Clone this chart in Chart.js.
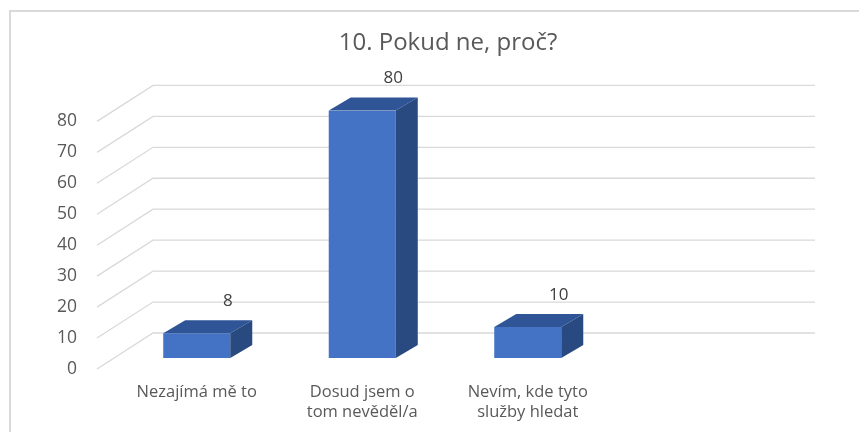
<!DOCTYPE html>
<html>
<head>
<meta charset="utf-8">
<script src="https://cdn.jsdelivr.net/npm/chart.js@4.4.1/dist/chart.umd.min.js"></script>
<style>
  body { margin: 0; background: #fff; }
  #wrap { position: relative; width: 859px; height: 432px; }
  #frame { position: absolute; left: 9px; top: 10px; right: 0; bottom: 0;
           border-top: 2px solid #d9d9d9; border-left: 2px solid #d9d9d9; }
  canvas { position: absolute; left: 0; top: 0; }
</style>
</head>
<body>
<div id="wrap">
  <div id="frame"></div>
  <canvas id="myChart" width="859" height="432"></canvas>
</div>
<script>
// data
const categories = ['Nezajímá mě to', ['Dosud jsem o', 'tom nevěděl/a'], ['Nevím, kde tyto', 'služby hledat'], ''];
const answers = [8, 80, 10, null];
const yTicks = [0, 10, 20, 30, 40, 50, 60, 70, 80];
const chartTitle = '10. Pokud ne, proč?';

// fake 3d: depth from the front edge to the bar face, and from bar face to the back wall
const toBar = { x: 17, y: -11 };
const toBack = { x: 39, y: -25 };
const barDepth = { x: 22, y: -13 };

const fontFamily = "'Open Sans', 'Noto Sans', sans-serif";

const wallGrid = {
    id: 'wallGrid',
    beforeDatasetsDraw(chart) {
        const ctx = chart.ctx;
        const area = chart.chartArea;
        const y = chart.scales.y;
        ctx.save();
        ctx.strokeStyle = '#d9d9d9';
        ctx.lineWidth = 1.3;
        yTicks.forEach(v => {
            const py = y.getPixelForValue(v);
            const fx = area.left - toBar.x;
            const bx = area.left + toBack.x;
            const by = py + toBar.y + toBack.y;
            ctx.beginPath();
            ctx.moveTo(fx, py);
            ctx.lineTo(bx, by);
            ctx.lineTo(area.right + toBack.x, by);
            ctx.stroke();
        });
        ctx.restore();
        // shift the bars to their depth
        ctx.save();
        ctx.translate(0, toBar.y);
    },
    afterDatasetsDraw(chart) {
        const ctx = chart.ctx;
        ctx.restore();
        const meta = chart.getDatasetMeta(0);
        meta.data.forEach((bar, i) => {
            if (answers[i] == null) return;
            const p = bar.getProps(['x', 'y', 'base', 'width'], true);
            const l = p.x - p.width / 2;
            const r = p.x + p.width / 2;
            const t = p.y + toBar.y;
            const b = p.base + toBar.y;
            ctx.save();
            // top
            ctx.fillStyle = '#2f5597';
            ctx.beginPath();
            ctx.moveTo(l, t);
            ctx.lineTo(r, t);
            ctx.lineTo(r + barDepth.x, t + barDepth.y);
            ctx.lineTo(l + barDepth.x, t + barDepth.y);
            ctx.closePath();
            ctx.fill();
            // side
            ctx.fillStyle = '#284a80';
            ctx.beginPath();
            ctx.moveTo(r, t);
            ctx.lineTo(r + barDepth.x, t + barDepth.y);
            ctx.lineTo(r + barDepth.x, b + barDepth.y);
            ctx.lineTo(r, b);
            ctx.closePath();
            ctx.fill();
            // value label
            ctx.fillStyle = '#404040';
            ctx.font = '17px ' + fontFamily;
            ctx.textAlign = 'center';
            ctx.textBaseline = 'middle';
            ctx.fillText(String(answers[i]), p.x + 31, p.y - 43);
            ctx.restore();
        });
    }
};

const ctx = document.getElementById('myChart').getContext('2d');
const myChart = new Chart(ctx, {
    type: 'bar',
    data: {
        labels: categories,
        datasets: [{
            label: 'Odpovědi',
            data: answers,
            backgroundColor: '#4472c4',
            borderWidth: 0,
            categoryPercentage: 1,
            barPercentage: 0.405
        }]
    },
    options: {
        responsive: false,
        animation: false,
        layout: { padding: { left: 37, right: 0, top: 0, bottom: 0 } },
        plugins: {
            legend: { display: false },
            tooltip: { enabled: false },
            title: {
                display: true,
                text: chartTitle,
                color: '#595959',
                font: { family: fontFamily, size: 24, weight: 'normal', lineHeight: 1.1 },
                padding: { top: 30, bottom: 65 }
            }
        },
        scales: {
            x: {
                grid: { display: false, drawTicks: false },
                border: { display: false },
                ticks: {
                    color: '#595959',
                    font: { family: fontFamily, size: 16.5, lineHeight: 1.21 },
                    padding: 13,
                    maxRotation: 0,
                    autoSkip: false
                },
                afterFit(s) { s.height = 63; }
            },
            y: {
                min: 0,
                max: 80,
                grid: { display: false, drawTicks: false },
                border: { display: false },
                ticks: {
                    stepSize: 10,
                    color: '#595959',
                    font: { family: fontFamily, size: 17.5 },
                    padding: 37
                },
                afterFit(s) { s.width = 77; }
            },
            yRight: {
                position: 'right',
                display: true,
                grid: { display: false, drawTicks: false },
                border: { display: false },
                ticks: { display: false },
                afterFit(s) { s.width = 83; }
            }
        }
    },
    plugins: [wallGrid]
});
</script>
</body>
</html>
